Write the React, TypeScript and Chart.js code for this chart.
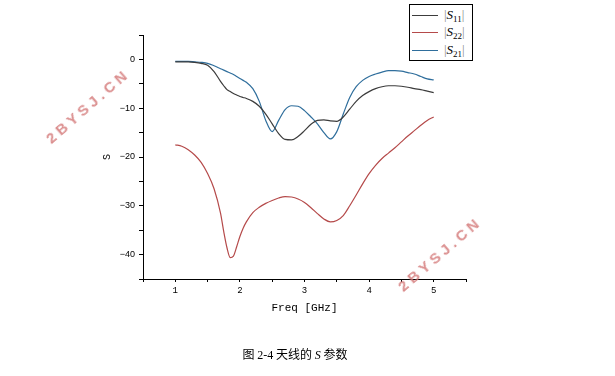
import React, { useEffect, useRef } from "react";
import { Chart, registerables } from "chart.js";

Chart.register(...registerables);

const freq = [
  1.0, 1.1, 1.2, 1.3, 1.4, 1.5, 1.6, 1.7, 1.75, 1.8, 1.85, 1.9, 1.95,
  2.0, 2.05, 2.1, 2.2, 2.3, 2.4, 2.5, 2.6, 2.7, 2.8, 2.9,
  3.0, 3.1, 3.2, 3.3, 3.4, 3.5, 3.6, 3.7, 3.8, 3.9,
  4.0, 4.1, 4.2, 4.3, 4.4, 4.5, 4.6, 4.7, 4.8, 4.9, 5.0,
];

const s11 = [
  -0.5, -0.5, -0.5, -0.6, -0.8, -1.2, -2.5, -4.5, -5.4, -6.2, -6.6, -7.0, -7.3,
  -7.6, -7.8, -8.0, -8.6, -9.6, -11.2, -13.2, -15.2, -16.4, -16.5, -15.8,
  -14.6, -13.3, -12.5, -12.4, -12.6, -12.7, -11.8, -10.2, -8.6, -7.4,
  -6.6, -6.0, -5.6, -5.4, -5.4, -5.5, -5.7, -6.0, -6.2, -6.5, -6.8,
];

const s22 = [
  -17.5, -17.8, -18.5, -19.6, -21.1, -23.4, -26.5, -31.5, -35.3, -38.6, -40.6, -40.3, -38.4,
  -36.3, -34.6, -33.3, -31.4, -30.3, -29.5, -28.9, -28.4, -28.1, -28.2, -28.6,
  -29.3, -30.4, -31.6, -32.7, -33.3, -33.0, -32.0, -30.0, -27.8, -25.5,
  -23.4, -21.7, -20.3, -19.2, -18.1, -16.9, -15.7, -14.6, -13.5, -12.5, -11.8,
];

const s21 = [
  -0.4, -0.4, -0.4, -0.5, -0.6, -0.8, -1.3, -1.9, -2.2, -2.5, -2.8, -3.1, -3.5,
  -3.9, -4.3, -4.7, -6.0, -8.6, -12.5, -14.8, -12.5, -10.3, -9.5, -9.6,
  -10.5, -11.8, -13.2, -15.0, -16.3, -14.8, -11.2, -7.8, -5.6, -4.3,
  -3.5, -3.0, -2.6, -2.3, -2.3, -2.4, -2.7, -3.0, -3.5, -4.0, -4.2,
];

const seriesNames = ["11", "22", "21"];
const seriesColors = ["#3c3c3c", "#b54a4a", "#2f6e9c"];
const xTitle = "Freq [GHz]";
const yTitle = "S";
const watermark = "2BYSJ.CN";

const toPoints = (ys: number[]) => freq.map((f, i) => ({ x: f, y: ys[i] }));

export default function App() {
  const ref = useRef<HTMLCanvasElement | null>(null);

  useEffect(() => {
    if (!ref.current) return;
    const allSeries = [s11, s22, s21];
    const chart = new Chart(ref.current, {
      type: "line",
      data: {
        datasets: allSeries.map((ys, i) => ({
          label: "S" + seriesNames[i],
          data: toPoints(ys),
          borderColor: seriesColors[i],
          backgroundColor: seriesColors[i],
          borderWidth: 1.2,
          pointRadius: 0,
          cubicInterpolationMode: "monotone" as const,
          fill: false,
        })),
      },
      options: {
        responsive: false,
        animation: false,
        devicePixelRatio: 1,
        layout: { padding: { left: 97, right: 149, top: 35, bottom: 57 } },
        plugins: { legend: { display: false }, tooltip: { enabled: false } },
        scales: {
          x: {
            type: "linear",
            min: 0.5,
            max: 5.5,
            afterFit: (s: any) => { s.height = 40; },
            border: { color: "#000", width: 1 },
            grid: { drawOnChartArea: false, drawTicks: true, tickLength: 3, color: "#000" },
            ticks: {
              stepSize: 0.5,
              autoSkip: false,
              maxRotation: 0,
              padding: 3,
              color: "#000",
              font: { family: "Liberation Mono", size: 9 },
              callback: (v: any) => (Math.abs(v % 1) < 1e-9 ? String(v) : ""),
            },
            title: {
              display: true,
              text: xTitle,
              color: "#000",
              padding: 4,
              font: { family: "Liberation Mono", size: 11 },
            },
          },
          y: {
            type: "linear",
            min: -45,
            max: 5,
            afterFit: (s: any) => { s.width = 46; },
            border: { color: "#000", width: 1 },
            grid: { drawOnChartArea: false, drawTicks: true, tickLength: 4, color: "#000" },
            ticks: {
              stepSize: 5,
              autoSkip: false,
              padding: 4,
              color: "#000",
              font: { family: "Liberation Sans", size: 9 },
              callback: (v: any) => (Math.abs(v % 10) < 1e-9 ? String(v).replace("-", "\u2212") : ""),
            },
            title: {
              display: true,
              text: yTitle,
              color: "#000",
              padding: 4,
              font: { family: "Liberation Mono", size: 10 },
            },
          },
        },
      },
    });
    return () => chart.destroy();
  }, []);

  const wmStyle = (cx: number, cy: number): React.CSSProperties => ({
    position: "absolute",
    left: cx - 60,
    top: cy - 10,
    width: 120,
    height: 20,
    lineHeight: "20px",
    textAlign: "center",
    transform: "rotate(-41deg)",
    color: "rgba(210,115,115,0.8)",
    fontFamily: "Liberation Sans",
    fontWeight: "bold",
    fontSize: 15,
    letterSpacing: 4,
    pointerEvents: "none",
    whiteSpace: "nowrap",
  });

  const legendRowTop = [15, 32, 50];

  return (
    <div style={{ position: "absolute", left: 0, top: 0, width: 615, height: 376, background: "#fff", overflow: "hidden" }}>
      <canvas ref={ref} width={615} height={376} style={{ position: "absolute", left: 0, top: 0 }} />
      <div style={{ position: "absolute", left: 409, top: 4, width: 62, height: 55, border: "1px solid #000", background: "#fff" }} />
      {seriesNames.map((n, i) => (
        <React.Fragment key={n}>
          <div style={{ position: "absolute", left: 412, top: legendRowTop[i], width: 26, height: 0, borderTop: "1px solid " + seriesColors[i] }} />
          <div
            style={{
              position: "absolute",
              left: 444,
              top: legendRowTop[i] - 9,
              height: 18,
              lineHeight: "18px",
              fontFamily: "Liberation Serif",
              fontSize: 13,
              color: "#000",
              whiteSpace: "nowrap",
            }}
          >
            <span style={{ color: "#888" }}>|</span>
            <i>S</i>
            <span style={{ fontSize: 9, position: "relative", top: 3 }}>{n}</span>
            <span style={{ color: "#888" }}>|</span>
          </div>
        </React.Fragment>
      ))}
      <div style={wmStyle(88, 106)}>{watermark}</div>
      <div style={wmStyle(440, 254)}>{watermark}</div>
      <div
        style={{
          position: "absolute",
          left: 195,
          width: 200,
          top: 346,
          textAlign: "center",
          fontSize: 12,
          lineHeight: "16px",
          color: "#000",
          fontFamily: "'Noto Sans CJK SC'",
          whiteSpace: "nowrap",
        }}
      >
        图 <span style={{ fontFamily: "Liberation Serif" }}>2-4</span> 天线的 <i style={{ fontFamily: "Liberation Serif" }}>S</i> 参数
      </div>
    </div>
  );
}
